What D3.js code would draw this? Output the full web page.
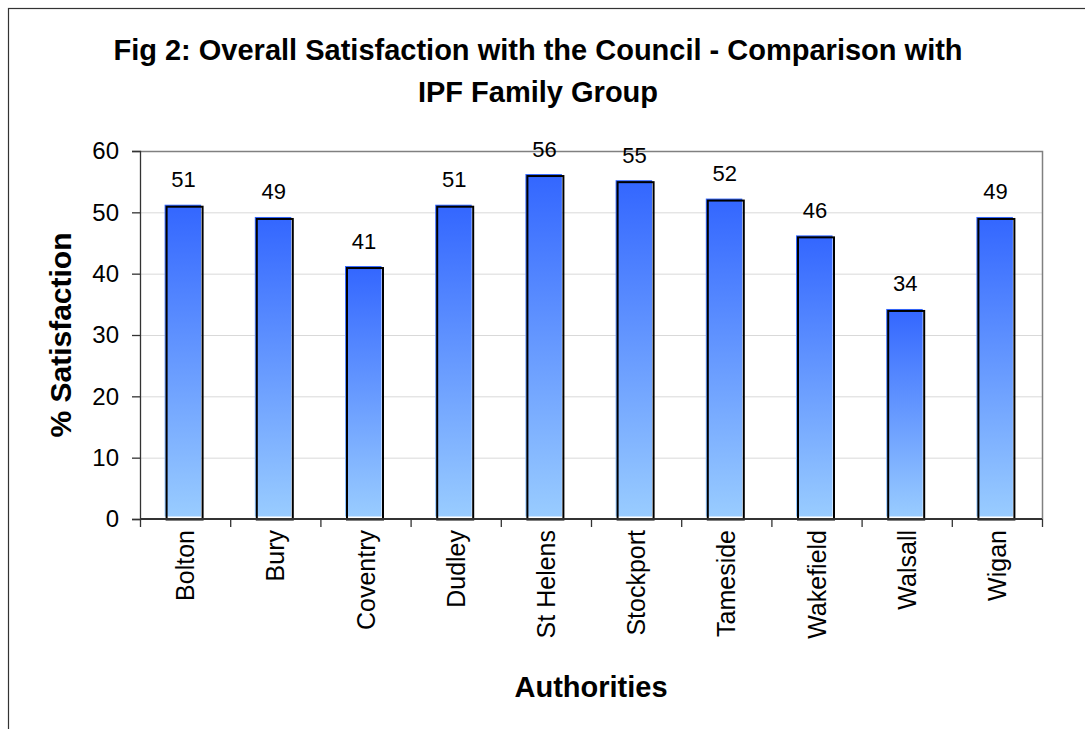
<!DOCTYPE html>
<html>
<head>
<meta charset="utf-8">
<script src="https://cdn.jsdelivr.net/npm/d3@7"></script>
<style>
  body { margin: 0; background: #fff; }
  svg { display: block; font-family: Arial, "Liberation Sans", sans-serif; }
</style>
</head>
<body>
<div id="chart"></div>
<script>
const authorities = ['Bolton', 'Bury', 'Coventry', 'Dudley', 'St Helens', 'Stockport', 'Tameside', 'Wakefield', 'Walsall', 'Wigan'];
const satisfaction = [51, 49, 41, 51, 56, 55, 52, 46, 34, 49];
const yTicks = [0, 10, 20, 30, 40, 50, 60];

const data = authorities.map((a, i) => ({name: a, value: satisfaction[i]}));

const width = 1085;
const height = 729;
const margin = {top: 151, left: 140, bottom: 210, right: 43};

const svg = d3.select('#chart').append('svg')
    .attr('width', width)
    .attr('height', height);

// gradient for the bars (per bar, top to bottom)
const grad = svg.append('defs').append('linearGradient')
    .attr('id', 'barGrad')
    .attr('x1', 0).attr('y1', 0).attr('x2', 0).attr('y2', 1);
grad.append('stop').attr('offset', '0%').attr('stop-color', '#3366ff');
grad.append('stop').attr('offset', '100%').attr('stop-color', '#99ccff');

// outer frame
svg.append('rect')
    .attr('x', 8.5).attr('y', 8.5)
    .attr('width', width + 20).attr('height', height + 20)
    .attr('fill', 'none').attr('stroke', '#333').attr('stroke-width', 1.2);

const x = d3.scaleBand()
    .domain(authorities)
    .range([margin.left, width - margin.right]);

const y = d3.scaleLinear()
    .domain([0, 60])
    .range([height - margin.bottom, margin.top]);

// gridlines
svg.append('g')
    .selectAll('line').data(yTicks.filter(t => t > 0 && t < 60)).enter().append('line')
    .attr('x1', margin.left).attr('x2', width - margin.right)
    .attr('y1', d => y(d) + 0.5).attr('y2', d => y(d) + 0.5)
    .attr('stroke', '#d9d9d9').attr('stroke-width', 1);

// plot border top/right
svg.append('path')
    .attr('d', `M${margin.left},${y(60) + 0.5}H${width - margin.right + 0.5}V${y(0)}`)
    .attr('fill', 'none').attr('stroke', '#808080').attr('stroke-width', 1.5);

// bars
const bw = 36;
const bars = svg.append('g').selectAll('g').data(data).enter().append('g');
bars.append('rect')
    .attr('x', d => x(d.name) + x.bandwidth() / 2 - bw / 2 - 2.5)
    .attr('y', d => y(d.value) - 1.5)
    .attr('width', bw + 0.5)
    .attr('height', d => y(0) - y(d.value) - 1)
    .attr('fill', 'url(#barGrad)');
bars.append('rect')
    .attr('x', d => x(d.name) + x.bandwidth() / 2 - bw / 2 - 0.5)
    .attr('y', d => y(d.value) + 0.5)
    .attr('width', bw)
    .attr('height', d => y(0) - y(d.value))
    .attr('fill', 'none').attr('stroke', '#000').attr('stroke-width', 2);

// value labels
bars.append('text')
    .attr('x', d => x(d.name) + x.bandwidth() / 2 - 1.5)
    .attr('y', d => y(d.value) - 19)
    .attr('text-anchor', 'middle')
    .attr('font-size', 22)
    .attr('fill', '#000')
    .text(d => d.value);

// y axis
const yAxis = g => g
    .attr('transform', `translate(${margin.left}, 0)`)
    .call(d3.axisLeft(y).tickValues(yTicks).tickSize(8).tickPadding(13))
    .call(g => g.selectAll('.domain, line').attr('stroke', '#333').attr('stroke-width', 1.3))
    .call(g => g.selectAll('text').attr('font-size', 24).attr('fill', '#000').attr('font-family', null));
svg.append('g').call(yAxis);

// x axis: ticks at category boundaries
const xg = svg.append('g').attr('transform', `translate(0, ${y(0)})`);
xg.append('line')
    .attr('x1', margin.left).attr('x2', width - margin.right)
    .attr('stroke', '#333').attr('stroke-width', 2);
xg.selectAll('.tk').data(authorities.concat(['end'])).enter().append('line')
    .attr('class', 'tk')
    .attr('x1', (d, i) => margin.left + i * x.step() + 0.5)
    .attr('x2', (d, i) => margin.left + i * x.step() + 0.5)
    .attr('y1', 0).attr('y2', 8)
    .attr('stroke', '#333').attr('stroke-width', 1.3);
xg.selectAll('text').data(authorities).enter().append('text')
    .attr('transform', d => `translate(${x(d) + x.bandwidth() / 2 + 9}, 11) rotate(-90)`)
    .attr('text-anchor', 'end')
    .attr('font-size', 25)
    .attr('fill', '#000')
    .text(d => d);

// titles
const title = svg.append('text')
    .attr('text-anchor', 'middle')
    .attr('font-size', 29)
    .attr('font-weight', 'bold');
title.append('tspan').attr('x', 538).attr('y', 60).text('Fig 2: Overall Satisfaction with the Council - Comparison with');
title.append('tspan').attr('x', 538).attr('y', 102).text('IPF Family Group');

svg.append('text')
    .attr('transform', `translate(71, 335) rotate(-90)`)
    .attr('text-anchor', 'middle')
    .attr('font-size', 30)
    .attr('font-weight', 'bold')
    .text('% Satisfaction');

svg.append('text')
    .attr('x', 591).attr('y', 697)
    .attr('text-anchor', 'middle')
    .attr('font-size', 29)
    .attr('font-weight', 'bold')
    .text('Authorities');
</script>
</body>
</html>
